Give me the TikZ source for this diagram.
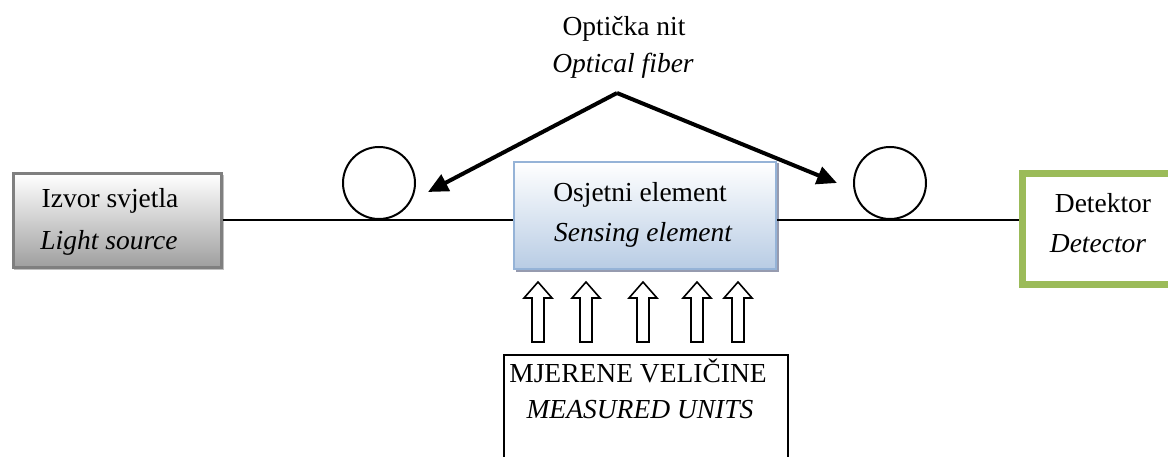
\documentclass[tikz,border=0pt]{standalone}
\usepackage{fontspec}
\setmainfont{Liberation Serif}[ItalicFont={Liberation Serif Italic}, BoldFont={Liberation Serif Bold}]
\usetikzlibrary{arrows.meta,calc}
\definecolor{srcborder}{RGB}{127,127,127}
\definecolor{srcbottom}{RGB}{158,158,158}
\definecolor{srcshadow}{RGB}{192,192,192}
\definecolor{sensborder}{RGB}{149,179,215}
\definecolor{sensbottom}{RGB}{184,204,228}
\definecolor{sensshadow}{RGB}{150,155,175}
\definecolor{detgreen}{RGB}{155,187,89}
\tikzset{
  lbl/.style={anchor=base, inner sep=0pt, font=\fontsize{27.5}{33}\selectfont},
  ilbl/.style={lbl, font=\fontsize{27.5}{33}\selectfont\itshape},
  fiber/.style={line width=2.2pt},
  roll/.style={circle, draw, line width=2pt, minimum size=72pt, inner sep=0pt},
  pointer/.style={line width=4pt, -{Triangle[length=20pt,width=18pt]}},
  blockarrow/.pic={
    \draw[line width=1.6pt, fill=white]
      (-6,0) -- (-6,-44) -- (-14,-44) -- (0,-60) -- (14,-44) -- (6,-44) -- (6,0) -- cycle;
  }
}
\begin{document}
\begin{tikzpicture}[x=1pt,y=-1pt]
\useasboundingbox (0,0) rectangle (1168,457);
% light source box
\fill[srcshadow] (14,175) rectangle (224,270);
\node[draw=srcborder, line width=3pt, top color=white, bottom color=srcbottom,
      minimum width=208pt, minimum height=94pt, inner sep=0pt, anchor=north west] (src) at (11.5,172.5) {};
\node[lbl] (src1) at (110,208) {Izvor svjetla};
\node[ilbl] (src2) at (109,250) {Light source};
% sensing element
\fill[sensshadow] (516,163) rectangle (779,272);
\node[draw=sensborder, line width=2pt, top color=white, bottom color=sensbottom,
      minimum width=262pt, minimum height=107pt, inner sep=0pt, anchor=north west] (sens) at (513,161) {};
\node[lbl] (sens1) at (640,202) {Osjetni element};
\node[ilbl] (sens2) at (643,242) {Sensing element};
% detector
\node[draw=detgreen, line width=7pt, minimum width=170pt, minimum height=111pt,
      inner sep=0pt, anchor=north west] (det) at (1018.5,170) {};
\node[lbl] (det1) at (1103,213) {Detektor};
\node[ilbl] (det2) at (1098,253) {Detector};
% fiber line
\coordinate (fib) at (0,220);
\draw[fiber] (src.east |- fib) -- (sens.west |- fib);
\draw[fiber] (sens.east |- fib) -- (det.west |- fib);
% fiber coils
\node[roll] (c1) at (379,183) {};
\node[roll] (c2) at (890,183) {};
% optical fiber label
\node[lbl] (of1) at (624,36) {Optička nit};
\node[ilbl] (of2) at (623,73) {Optical fiber};
\coordinate (apex) at (617,93);
\coordinate (t1) at (428,192);
\coordinate (t2) at (837,183);
\draw[pointer] (apex) -- (t1);
\draw[pointer] (apex) -- (t2);
% measured units
\node[draw, line width=2pt, minimum width=284pt, minimum height=130pt,
      inner sep=0pt, anchor=north west] (meas) at (503,354) {};
\node[lbl] (meas1) at (638,382) {MJERENE VELIČINE};
\node[ilbl] (meas2) at (640,418) {MEASURED UNITS};
% block arrows
\foreach \x in {538,586,643,697,738} {
  \pic at (\x,342) {blockarrow};
}
\end{tikzpicture}
\end{document}
